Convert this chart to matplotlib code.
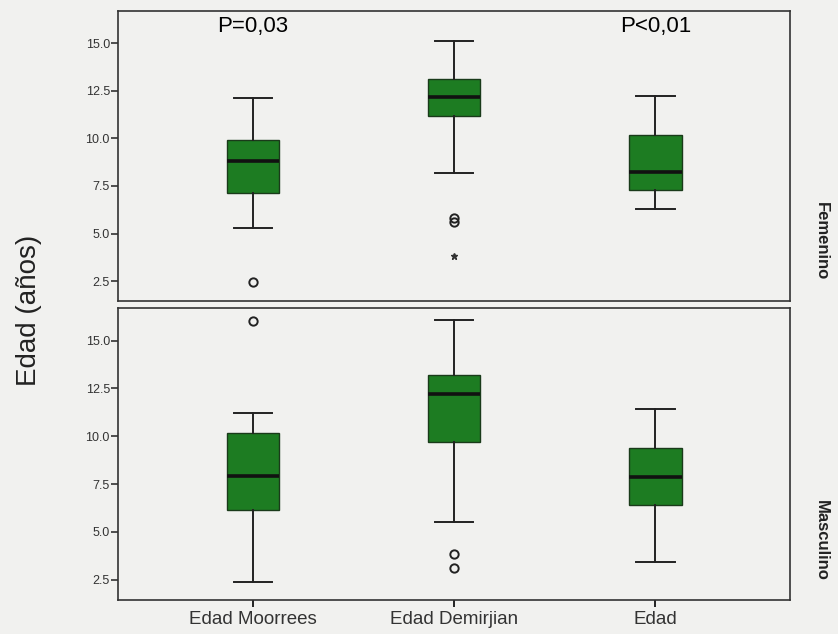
import matplotlib.pyplot as plt

plt.rcParams["font.family"] = ["Liberation Sans", "DejaVu Sans"]

grupos = ["Edad Moorrees", "Edad Demirjian", "Edad"]
paneles = ["Femenino", "Masculino"]
p_valores = ["P=0,03", "P<0,01"]

# Femenino
fem_whislo = [5.3, 8.2, 6.3]
fem_q1 = [7.15, 11.15, 7.3]
fem_med = [8.8, 12.15, 8.25]
fem_q3 = [9.9, 13.1, 10.2]
fem_whishi = [12.1, 15.1, 12.2]
fem_outliers = [[2.45], [5.6, 5.8], []]
fem_extremos = [[], [3.8], []]

# Masculino
mas_whislo = [2.4, 5.5, 3.4]
mas_q1 = [6.15, 9.7, 6.4]
mas_med = [7.9, 12.2, 7.85]
mas_q3 = [10.15, 13.2, 9.4]
mas_whishi = [11.2, 16.1, 11.4]
mas_outliers = [[16.05], [3.85, 3.1], []]
mas_extremos = [[], [], []]

fondo = "#f1f1ef"
verde = "#1d7c22"

fig = plt.figure(figsize=(8.38, 6.34), dpi=100, facecolor=fondo)
ax1 = fig.add_axes([0.141, 0.525, 0.802, 0.458])
ax2 = fig.add_axes([0.141, 0.054, 0.802, 0.46])

datos = [
    (fem_whislo, fem_q1, fem_med, fem_q3, fem_whishi, fem_outliers, fem_extremos),
    (mas_whislo, mas_q1, mas_med, mas_q3, mas_whishi, mas_outliers, mas_extremos),
]

for ax, (wlo, q1, med, q3, whi, outl, ext) in zip([ax1, ax2], datos):
    stats = []
    for i in range(len(grupos)):
        stats.append(dict(whislo=wlo[i], q1=q1[i], med=med[i], q3=q3[i],
                          whishi=whi[i], fliers=outl[i], label=grupos[i]))
    ax.bxp(
        stats,
        positions=[1, 2, 3],
        widths=0.26,
        patch_artist=True,
        boxprops=dict(facecolor=verde, edgecolor="#1a3a1a", linewidth=1.0),
        medianprops=dict(color="#111111", linewidth=2.6),
        whiskerprops=dict(color="#222222", linewidth=1.4),
        capprops=dict(color="#222222", linewidth=1.4),
        capwidths=0.19,
        flierprops=dict(marker="o", markerfacecolor="none",
                        markeredgecolor="#222222", markersize=6,
                        markeredgewidth=1.4),
    )
    for i, vals in enumerate(ext):
        if vals:
            ax.plot([i + 1] * len(vals), vals, marker="*", linestyle="none",
                    color="#333333", markersize=5)
    ax.set_xlim(0.33, 3.67)
    ax.set_ylim(1.45, 16.7)
    ax.set_yticks([2.5, 5.0, 7.5, 10.0, 12.5, 15.0])
    ax.set_yticklabels(["2.5", "5.0", "7.5", "10.0", "12.5", "15.0"])
    ax.set_facecolor(fondo)
    for s in ax.spines.values():
        s.set_color("#333333")
        s.set_linewidth(1.2)
    ax.tick_params(axis="y", labelsize=9, colors="#333333", length=5,
                   width=1.2, pad=1)

ax1.set_xticks([])
ax2.set_xticks([1, 2, 3])
ax2.set_xticklabels(grupos, fontsize=13.5, color="#333333")
ax2.tick_params(axis="x", length=5, width=1.2, pad=3)

ax1.text(1, 15.9, p_valores[0], ha="center", va="center", fontsize=16)
ax1.text(3, 15.9, p_valores[1], ha="center", va="center", fontsize=16)

fig.text(0.035, 0.51, "Edad (años)", rotation=90, ha="center", va="center",
         fontsize=20, color="#222222")
fig.text(0.98, 0.62, paneles[0], rotation=-90, ha="center", va="center",
         fontsize=12, fontweight="bold", color="#222222")
fig.text(0.98, 0.148, paneles[1], rotation=-90, ha="center", va="center",
         fontsize=12, fontweight="bold", color="#222222")

fig.savefig("out.png", dpi=100, facecolor=fondo)
